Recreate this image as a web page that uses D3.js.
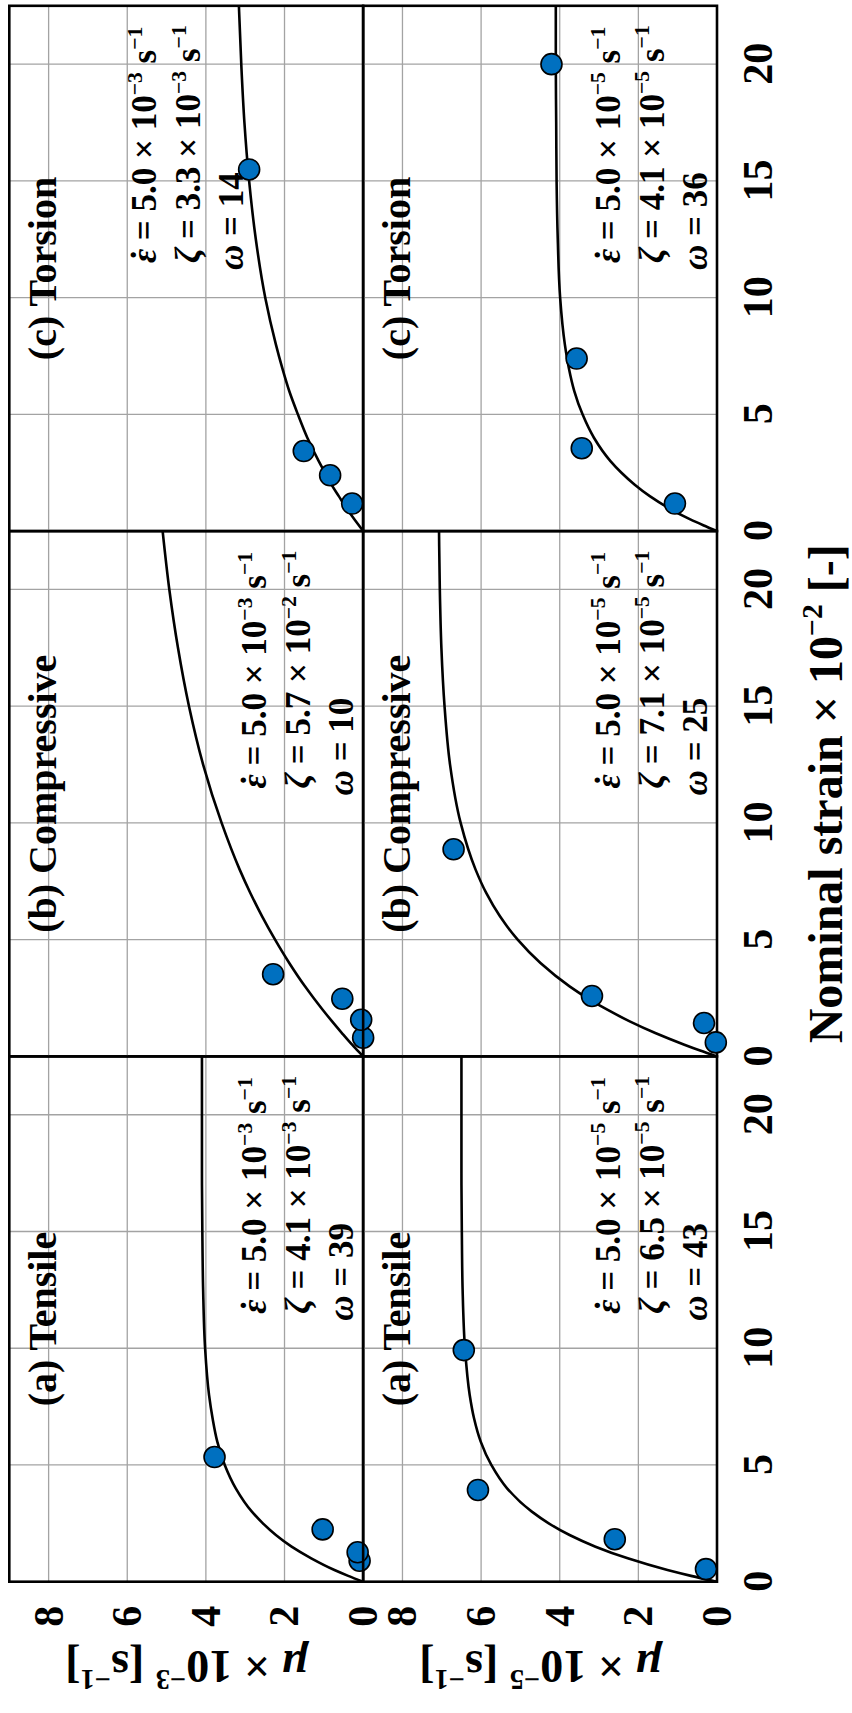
<!DOCTYPE html>
<html>
<head>
<meta charset="utf-8">
<script src="https://cdn.jsdelivr.net/npm/d3@7"></script>
<style>
  html, body { margin: 0; padding: 0; background: #fff; }
  svg { display: block; }
</style>
</head>
<body>
<svg id="chart" width="852" height="1713"></svg>
<script>
// ---- data ----------------------------------------------------------------
const panelTitles = ["(a) Tensile", "(b) Compressive", "(c) Torsion"];
const rowExponents = ["3", "5"];            // μ × 10^-n for the two rows
const strainTicks = [0, 5, 10, 15, 20];
const muTicks = [0, 2, 4, 6, 8];
const strainMax = 22.5;
const muMax = 9;

// measured points: [nominal strain ×10^-2, μ]
const ptsTensileFast     = [[0.90, 0.09], [1.26, 0.14], [2.24, 1.03], [5.34, 3.78]];
const ptsCompressiveFast = [[0.80, 0.00], [1.57, 0.05], [2.47, 0.53], [3.52, 2.29]];
const ptsTorsionFast     = [[1.18, 0.28], [2.39, 0.84], [3.43, 1.51], [15.49, 2.90]];
const ptsTensileSlow     = [[0.54, 0.28], [1.82, 2.60], [3.93, 6.08], [9.92, 6.44]];
const ptsCompressiveSlow = [[0.60, 0.03], [1.43, 0.33], [2.59, 3.18], [8.87, 6.70]];
const ptsTorsionSlow     = [[1.18, 1.07], [3.55, 3.44], [7.39, 3.57], [20.0, 4.21]];

// fitted curves, sampled along strain
const curveStrain = [0, 0.25, 0.5, 1, 1.5, 2, 2.5, 3, 4, 5, 6, 7, 8, 10, 12.5, 15, 17.5, 20, 22.5];
const fitTensileFast     = [0, 0.38, 0.73, 1.32, 1.82, 2.22, 2.55, 2.83, 3.24, 3.52, 3.71, 3.83, 3.92, 4.02, 4.07, 4.09, 4.10, 4.10, 4.10];
const fitCompressiveFast = [0, 0.14, 0.28, 0.54, 0.79, 1.03, 1.26, 1.48, 1.88, 2.24, 2.57, 2.87, 3.14, 3.60, 4.07, 4.43, 4.71, 4.93, 5.10];
const fitTorsionFast     = [0, 0.11, 0.22, 0.43, 0.62, 0.81, 0.97, 1.13, 1.42, 1.66, 1.88, 2.06, 2.22, 2.49, 2.73, 2.90, 3.02, 3.10, 3.16];
const fitTensileSlow     = [0, 0.66, 1.26, 2.27, 3.09, 3.75, 4.28, 4.71, 5.34, 5.74, 6.01, 6.18, 6.29, 6.41, 6.47, 6.49, 6.50, 6.50, 6.50];
const fitCompressiveSlow = [0, 0.43, 0.83, 1.57, 2.22, 2.79, 3.30, 3.75, 4.49, 5.07, 5.52, 5.87, 6.14, 6.52, 6.79, 6.93, 7.01, 7.05, 7.07];
const fitTorsionSlow     = [0, 0.35, 0.68, 1.24, 1.71, 2.10, 2.43, 2.71, 3.13, 3.42, 3.63, 3.77, 3.87, 3.99, 4.05, 4.08, 4.09, 4.10, 4.10];

// fit parameters printed in each panel
const rateMantissa = ["5.0", "5.0"];
const rateExponent = ["3", "5"];
const zetaMantissa = [["4.1", "5.7", "3.3"], ["6.5", "7.1", "4.1"]];
const zetaExponent = [["3", "2", "3"], ["5", "5", "5"]];
const omegaValues  = [["39", "10", "14"], ["43", "25", "36"]];

const points = [
  [ptsTensileFast, ptsCompressiveFast, ptsTorsionFast],
  [ptsTensileSlow, ptsCompressiveSlow, ptsTorsionSlow]
];
const fits = [
  [fitTensileFast, fitCompressiveFast, fitTorsionFast],
  [fitTensileSlow, fitCompressiveSlow, fitTorsionSlow]
];

// ---- layout (drawn landscape, then turned a quarter turn) -----------------
const LW = 1713;
const plotLeft = 131.3, panelW = 525.3;
const rowTop = 9.3, rowH = 353.85;
const noteShift = [[0, 0, -110], [0, 0, 0]];   // vertical shift of the parameter block
const FONT = "'Liberation Serif', 'Times New Roman', Times, serif";

const svg = d3.select("#chart");
const g = svg.append("g")
  .attr("transform", `translate(0,${LW}) rotate(-90)`)
  .attr("font-family", FONT)
  .attr("font-weight", "bold");

const line = d3.line().curve(d3.curveMonotoneX);

function supText(sel, parts, size) {
  // parts: [text, kind]; kind "n" normal, "i" italic, "s" superscript, "d" dot accent
  let raised = false;
  parts.forEach(([t, kind]) => {
    const ts = sel.append("tspan").text(t);
    if (kind === "i") ts.attr("font-style", "italic");
    if (kind === "d") ts.attr("dx", -size * 0.34).attr("font-style", "normal");
    if (kind === "s") {
      ts.attr("font-size", size * 0.62);
      if (!raised) { ts.attr("dy", -size * 0.42); raised = true; }
    } else if (raised) {
      ts.attr("dy", size * 0.42); raised = false;
    }
  });
}

for (let r = 0; r < 2; r++) {
  const top = rowTop + r * rowH;
  const bottom = top + rowH;
  const y = d3.scaleLinear().domain([0, muMax]).range([bottom, top]);

  for (let c = 0; c < 3; c++) {
    const left = plotLeft + c * panelW;
    const x = d3.scaleLinear().domain([0, strainMax]).range([left, left + panelW]);
    const panel = g.append("g");

    // grid
    panel.selectAll(".gx").data(strainTicks.slice(1)).join("line")
      .attr("x1", d => x(d)).attr("x2", d => x(d))
      .attr("y1", top).attr("y2", bottom)
      .attr("stroke", "#a3a3a3").attr("stroke-width", 1.3);
    panel.selectAll(".gy").data(muTicks.slice(1)).join("line")
      .attr("y1", d => y(d)).attr("y2", d => y(d))
      .attr("x1", left).attr("x2", left + panelW)
      .attr("stroke", "#a3a3a3").attr("stroke-width", 1.3);

    // frame
    panel.append("rect")
      .attr("x", left).attr("y", top).attr("width", panelW).attr("height", rowH)
      .attr("fill", "none").attr("stroke", "#000").attr("stroke-width", 2.6);

    // panel title
    panel.append("text")
      .attr("x", left + panelW / 2).attr("y", top + 47)
      .attr("text-anchor", "middle").attr("font-size", 40)
      .text(panelTitles[c]);

    // parameter block
    const fs = 35;
    const tx = left + 268;
    const ty = top + noteShift[r][c];
    const t1 = panel.append("text").attr("x", tx).attr("y", ty + 257).attr("font-size", fs);
    supText(t1, [["\u03B5", "i"], ["\u02D9", "d"], [" = " + rateMantissa[r] + " \u00D7 10", "n"],
                 ["\u2212" + rateExponent[r], "s"], [" s", "n"], ["\u22121", "s"]], fs);
    const t2 = panel.append("text").attr("x", tx).attr("y", ty + 301).attr("font-size", fs);
    supText(t2, [["\u03B6", "i"], [" = " + zetaMantissa[r][c] + " \u00D7 10", "n"],
                 ["\u2212" + zetaExponent[r][c], "s"], [" s", "n"], ["\u22121", "s"]], fs);
    const t3 = panel.append("text").attr("x", tx - 7).attr("y", ty + 344).attr("font-size", fs);
    supText(t3, [["\u03C9", "i"], [" = " + omegaValues[r][c], "n"]], fs);

    // fitted curve
    const fit = fits[r][c];
    panel.append("path")
      .attr("d", line(curveStrain.map((s, i) => [x(s), y(fit[i])])))
      .attr("fill", "none").attr("stroke", "#000").attr("stroke-width", 2.6);

    // measured points
    panel.selectAll("circle").data(points[r][c]).join("circle")
      .attr("cx", d => x(d[0])).attr("cy", d => y(d[1])).attr("r", 10.5)
      .attr("fill", "#0070C0").attr("stroke", "#000").attr("stroke-width", 1.6);

    // strain axis labels on the lower row
    if (r === 1) {
      const ax = g.append("g").attr("transform", `translate(0,${bottom})`)
        .call(d3.axisBottom(x).tickValues(strainTicks).tickSize(0).tickFormat(d3.format("d")));
      ax.select(".domain").remove();
      ax.attr("font-family", FONT).attr("font-size", 42).attr("font-weight", "bold");
      ax.selectAll("text").attr("y", 55).attr("dy", null).attr("fill", "#000");
    }
    // μ axis labels on the first column
    if (c === 0) {
      const ay = g.append("g").attr("transform", `translate(${left},0)`)
        .call(d3.axisLeft(y).tickValues(muTicks).tickSize(0).tickPadding(24).tickFormat(d3.format("d")));
      ay.select(".domain").remove();
      ay.attr("font-family", FONT).attr("font-size", 42).attr("font-weight", "bold");
      ay.selectAll("text").attr("fill", "#000");
    }
  }

  // μ axis title
  const yt = g.append("text")
    .attr("transform", `translate(62,${top + rowH / 2}) rotate(-90)`)
    .attr("text-anchor", "middle").attr("font-size", 46);
  supText(yt, [["\u03BC", "i"], [" \u00D7 10", "n"], ["\u2212" + rowExponents[r], "s"],
               [" [s", "n"], ["\u22121", "s"], ["]", "n"]], 46);
}

// strain axis title
const xt = g.append("text")
  .attr("x", plotLeft + 1.5 * panelW).attr("y", 842)
  .attr("text-anchor", "middle").attr("font-size", 48);
supText(xt, [["Nominal strain \u00D7 10", "n"], ["\u22122", "s"], [" [-]", "n"]], 48);
</script>
</body>
</html>
